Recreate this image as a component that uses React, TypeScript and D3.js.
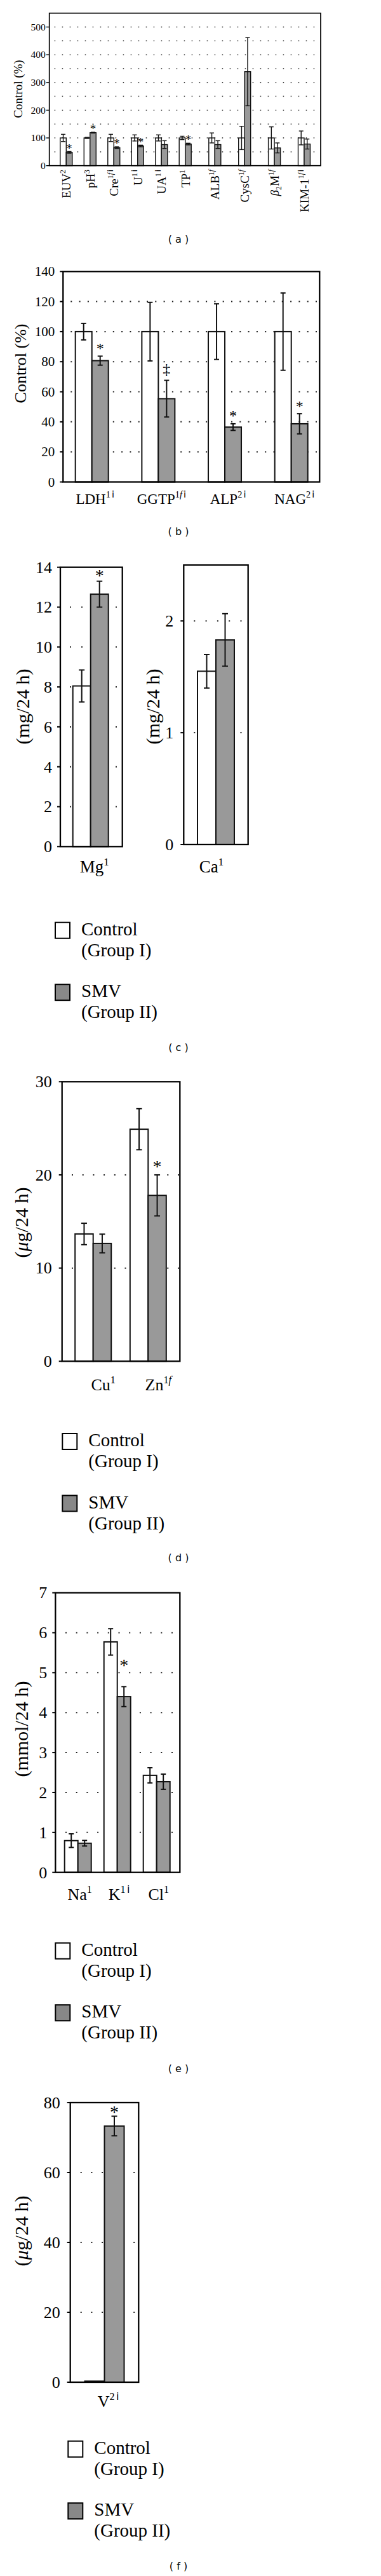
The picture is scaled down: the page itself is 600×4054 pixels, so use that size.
import React from "react";
import * as d3 from "d3";

const SERIF = "'Liberation Serif', 'Times New Roman', serif";
const SANS = "'DejaVu Sans', 'Liberation Sans', sans-serif";
const BAR_GRAY = "#999999";
const KEY_GRAY = "#888888";

// ---------- (a) ----------
const A_CATS = ["EUV", "pH", "Cre", "U", "UA", "TP", "ALB", "CysC", "β₂M", "KIM-1"];
const A_SUPS = ["2", "3", "1fi", "1i", "1i", "1", "1f", "1f", "1f", "1fi"];
const A_CTRL = [100, 100, 100, 100, 100, 100, 100, 100, 100, 100];
const A_CTRL_ERR = [13, 2, 13, 11, 11, 6, 18, 42, 40, 25];
const A_SMV = [48, 119, 65, 71, 76, 78, 76, 339, 64, 78];
const A_SMV_ERR = [3, 1.5, 3, 3, 14, 3, 14, 123, 18, 18];
const A_MARKS = ["*", "*", "*", "*", "", "*", "", "", "", ""];
const A_TICKS = [0, 100, 200, 300, 400, 500];
const A_GRID = [50, 100, 150, 200, 250, 300, 350, 400, 450, 500];

// ---------- (b) ----------
const B_CATS = ["LDH", "GGTP", "ALP", "NAG"];
const B_SUPS = ["1i", "1fi", "2i", "2i"];
const B_CTRL = [100, 100, 100, 100];
const B_CTRL_ERR = [5.5, 19.5, 18.5, 25.7];
const B_SMV = [80.7, 55.4, 36.5, 38.7];
const B_SMV_ERR = [3, 12.2, 2.2, 6.7];
const B_MARKS = ["*", "‡", "*", "*"];
const B_TICKS = [0, 20, 40, 60, 80, 100, 120, 140];
const B_GRID = [20, 40, 60, 80, 100, 120];

// ---------- (c) ----------
const C1_CATS = ["Mg"];
const C1_SUPS = ["1"];
const C1_CTRL = [8.05];
const C1_CTRL_ERR = [0.8];
const C1_SMV = [12.65];
const C1_SMV_ERR = [0.65];
const C1_MARKS = ["*"];
const C1_TICKS = [0, 2, 4, 6, 8, 10, 12, 14];
const C1_GRID = [2, 4, 6, 8, 10, 12];

const C2_CATS = ["Ca"];
const C2_SUPS = ["1"];
const C2_CTRL = [1.55];
const C2_CTRL_ERR = [0.15];
const C2_SMV = [1.83];
const C2_SMV_ERR = [0.235];
const C2_MARKS = [""];
const C2_TICKS = [0, 1, 2];
const C2_GRID = [1, 2];

// ---------- (d) ----------
const D_CATS = ["Cu", "Zn"];
const D_SUPS = ["1", "1f"];
const D_CTRL = [13.66, 24.9];
const D_CTRL_ERR = [1.15, 2.2];
const D_SMV = [12.64, 17.8];
const D_SMV_ERR = [1.0, 2.2];
const D_MARKS = ["", "*"];
const D_TICKS = [0, 10, 20, 30];
const D_GRID = [10, 20];

// ---------- (e) ----------
const E_CATS = ["Na", "K", "Cl"];
const E_SUPS = ["1", "1i", "1"];
const E_CTRL = [0.795, 5.77, 2.43];
const E_CTRL_ERR = [0.17, 0.33, 0.19];
const E_SMV = [0.73, 4.4, 2.27];
const E_SMV_ERR = [0.07, 0.25, 0.19];
const E_MARKS = ["", "*", ""];
const E_TICKS = [0, 1, 2, 3, 4, 5, 6, 7];
const E_GRID = [1, 2, 3, 4, 5, 6];

// ---------- (f) ----------
const F_CATS = ["V"];
const F_SUPS = ["2i"];
const F_CTRL = [0.3];
const F_CTRL_ERR = [0];
const F_SMV = [73.3];
const F_SMV_ERR = [2.8];
const F_MARKS = ["*"];
const F_TICKS = [0, 20, 40, 60, 80];
const F_GRID = [20, 40, 60];

const LEGEND_NAMES = [["Control", "(Group I)"], ["SMV", "(Group II)"]];
const PANEL_TAGS = ["a", "b", "c", "d", "e", "f"];

type Seg = { from: number; to: number; range: [number, number] };
type Cfg = {
  cats: string[]; sups: string[]; ctrl: number[]; ctrlErr: number[]; smv: number[]; smvErr: number[]; marks: string[];
  ticks: number[]; grid: number[]; yMax: number;
  l: number; r: number; t: number; b: number; segments: Seg[];
  barW: number; capW: number; line: number;
  tickFont: number; tickGap: number; ylabFont: number; catFont: number; markFont: number; markOff: number;
  yLabel: React.ReactNode; yLabX: number; yLabY: number;
  catMode: "rot" | "flat"; catY: number; catDx: number; dot: number; dotStart: number;
};

function labelSpans(name: string, sup: string, size: number) {
  const out: React.ReactNode[] = [];
  const s = size * 0.62;
  let k = 0;
  if (name.startsWith("β₂")) {
    out.push(<tspan key={k++} fontStyle="italic">β</tspan>);
    out.push(<tspan key={k++} fontSize={s} dy={size * 0.22}>2</tspan>);
    out.push(<tspan key={k++} dy={-size * 0.22}>{name.slice(2)}</tspan>);
  } else {
    out.push(<tspan key={k++}>{name}</tspan>);
  }
  let first = true;
  for (const ch of sup) {
    out.push(
      <tspan key={k++} fontSize={s} fontStyle={ch === "f" ? "italic" : "normal"}
        fontFamily={ch === "i" ? SANS : SERIF} dx={ch === "i" ? s * 0.15 : 0} dy={first ? -size * 0.42 : 0}>{ch}</tspan>
    );
    first = false;
  }
  return out;
}

function BarPanel({ c }: { c: Cfg }) {
  const y = d3.scaleLinear().domain([0, c.yMax]).range([c.b, c.t]);
  const centers: number[] = [];
  c.segments.forEach((s) => {
    const dom = c.cats.slice(s.from, s.to);
    const sc = d3.scalePoint<string>().domain(dom).range(s.range);
    dom.forEach((d) => centers.push(sc(d) as number));
  });
  const err = (x: number, v: number, e: number, key: string) => {
    if (!e) return null;
    return (
      <g key={key} stroke="#111" strokeWidth={c.line}>
        <line x1={x} x2={x} y1={y(v - e)} y2={y(v + e)} />
        <line x1={x - c.capW / 2} x2={x + c.capW / 2} y1={y(v - e)} y2={y(v - e)} />
        <line x1={x - c.capW / 2} x2={x + c.capW / 2} y1={y(v + e)} y2={y(v + e)} />
      </g>
    );
  };
  return (
    <g>
      {c.grid.map((v) => (
        <line key={"g" + v} x1={c.l + c.dotStart - 1} x2={c.r} y1={y(v)} y2={y(v)} stroke="#222"
          strokeWidth={Math.max(1.5, c.line)} strokeDasharray={`${Math.max(1.5, c.line)} ${c.dot - Math.max(1.5, c.line)}`} />
      ))}
      {c.cats.map((cat, i) => {
        const cx = centers[i];
        return (
          <g key={cat}>
            <rect x={cx - c.barW} y={y(c.ctrl[i])} width={c.barW} height={y(0) - y(c.ctrl[i])} fill="#fff" stroke="#111" strokeWidth={c.line} />
            <rect x={cx} y={y(c.smv[i])} width={c.barW} height={y(0) - y(c.smv[i])} fill={BAR_GRAY} stroke="#111" strokeWidth={c.line} />
            {err(cx - c.barW / 2, c.ctrl[i], c.ctrlErr[i], "ec")}
            {err(cx + c.barW / 2, c.smv[i], c.smvErr[i], "es")}
            {c.marks[i] && (
              <text x={cx + c.barW / 2} y={y(c.smv[i] + c.smvErr[i]) - c.markOff + c.markFont * (c.marks[i] === "*" ? 0.48 : 0.28)}
                textAnchor="middle" fontFamily={SERIF} fontSize={c.markFont}>{c.marks[i]}</text>
            )}
            {c.catMode === "rot" ? (
              <text transform={`translate(${cx + c.catDx},${c.catY}) rotate(-90)`} textAnchor="end" fontFamily={SERIF} fontSize={c.catFont}>
                {labelSpans(cat, c.sups[i], c.catFont)}
              </text>
            ) : (
              <text x={cx + c.catDx} y={c.catY} textAnchor="middle" fontFamily={SERIF} fontSize={c.catFont}>
                {labelSpans(cat, c.sups[i], c.catFont)}
              </text>
            )}
          </g>
        );
      })}
      <rect x={c.l} y={c.t} width={c.r - c.l} height={c.b - c.t} fill="none" stroke="#000" strokeWidth={c.line + 0.3} />
      {c.ticks.map((v) => (
        <g key={"t" + v}>
          <line x1={c.l - 5} x2={c.l} y1={y(v)} y2={y(v)} stroke="#000" strokeWidth={c.line} />
          <text x={c.l - c.tickGap} y={y(v) + c.tickFont * 0.34} textAnchor="end" fontFamily={SERIF} fontSize={c.tickFont}>{v}</text>
        </g>
      ))}
      <text transform={`translate(${c.yLabX},${c.yLabY}) rotate(-90)`} textAnchor="middle" dominantBaseline="central"
        fontFamily={SERIF} fontSize={c.ylabFont}>{c.yLabel}</text>
    </g>
  );
}

function Legend({ x, y }: { x: number; y: number }) {
  return (
    <g fontFamily={SERIF} fontSize={29}>
      {LEGEND_NAMES.map((lines, i) => {
        const top = y + i * 97.5;
        return (
          <g key={i}>
            <rect x={x} y={top} width={23} height={25} fill={i === 0 ? "#fff" : KEY_GRAY} stroke="#000" strokeWidth={2} />
            <text x={x + 41} y={top + 20}>{lines[0]}</text>
            <text x={x + 41} y={top + 53}>{lines[1]}</text>
          </g>
        );
      })}
    </g>
  );
}

const mu = (
  <>
    <tspan>(</tspan><tspan fontStyle="italic">μ</tspan><tspan>g/24 h)</tspan>
  </>
);

const common = { line: 2, capW: 9, tickFont: 26, ylabFont: 30, catFont: 26, markFont: 28, catMode: "flat" as const, dot: 16.7, dotStart: 16.5 };

const PA: Cfg = {
  cats: A_CATS, sups: A_SUPS, ctrl: A_CTRL, ctrlErr: A_CTRL_ERR, smv: A_SMV, smvErr: A_SMV_ERR, marks: A_MARKS,
  ticks: A_TICKS, grid: A_GRID, yMax: 550, l: 77.7, r: 505, t: 20.7, b: 260.7,
  segments: [{ from: 0, to: 6, range: [104.3, 291.7] }, { from: 6, to: 10, range: [338.3, 479] }],
  barW: 9.5, capW: 7, line: 1.4, tickFont: 15.5, tickGap: 6, ylabFont: 19, catFont: 19, markFont: 19, markOff: 8,
  yLabel: "Control (%)", yLabX: 28, yLabY: 140, catMode: "rot", catY: 267, catDx: 7, dot: 12, dotStart: 9,
};
const PB: Cfg = {
  cats: B_CATS, sups: B_SUPS, ctrl: B_CTRL, ctrlErr: B_CTRL_ERR, smv: B_SMV, smvErr: B_SMV_ERR, marks: B_MARKS,
  ticks: B_TICKS, grid: B_GRID, yMax: 140, l: 99.3, r: 503.3, t: 427.3, b: 758.5,
  segments: [{ from: 0, to: 4, range: [144.7, 458.7] }],
  barW: 26, capW: 8, line: 2, tickFont: 21, tickGap: 13, ylabFont: 26, catFont: 23, markFont: 24, markOff: 16,
  yLabel: "Control (%)", yLabX: 32, yLabY: 572, catMode: "flat", catY: 792.7, catDx: 5, dot: 13.3, dotStart: 13,
};
const PC1: Cfg = {
  ...common,
  cats: C1_CATS, sups: C1_SUPS, ctrl: C1_CTRL, ctrlErr: C1_CTRL_ERR, smv: C1_SMV, smvErr: C1_SMV_ERR, marks: C1_MARKS,
  ticks: C1_TICKS, grid: C1_GRID, yMax: 14, l: 95, r: 192.7, t: 892.7, b: 1332.3,
  segments: [{ from: 0, to: 1, range: [95, 190.4] }],
  barW: 28, tickGap: 13, catFont: 27, markOff: 13, yLabel: "(mg/24 h)", yLabX: 35, yLabY: 1112, catY: 1373, catDx: 6, dot: 18, dotStart: 16,
};
const PC2: Cfg = {
  ...common,
  cats: C2_CATS, sups: C2_SUPS, ctrl: C2_CTRL, ctrlErr: C2_CTRL_ERR, smv: C2_SMV, smvErr: C2_SMV_ERR, marks: C2_MARKS,
  ticks: C2_TICKS, grid: C2_GRID, yMax: 2.5, l: 289.3, r: 390.7, t: 889.3, b: 1329,
  segments: [{ from: 0, to: 1, range: [289.3, 390.7] }],
  barW: 29, tickGap: 16, catFont: 27, markOff: 13, yLabel: "(mg/24 h)", yLabX: 240, yLabY: 1112, catY: 1373, catDx: -7, dot: 18.3, dotStart: 17,
};
const PD: Cfg = {
  ...common,
  cats: D_CATS, sups: D_SUPS, ctrl: D_CTRL, ctrlErr: D_CTRL_ERR, smv: D_SMV, smvErr: D_SMV_ERR, marks: D_MARKS,
  ticks: D_TICKS, grid: D_GRID, yMax: 30, l: 97.7, r: 283.3, t: 1702.3, b: 2142.3,
  segments: [{ from: 0, to: 2, range: [146.7, 233.3] }],
  barW: 28.5, tickGap: 16, markOff: 17, yLabel: mu, yLabX: 33, yLabY: 1924, catY: 2188, catDx: 16, dotStart: 16.3,
};
const PE: Cfg = {
  ...common,
  cats: E_CATS, sups: E_SUPS, ctrl: E_CTRL, ctrlErr: E_CTRL_ERR, smv: E_SMV, smvErr: E_SMV_ERR, marks: E_MARKS,
  ticks: E_TICKS, grid: E_GRID, yMax: 7, l: 87.3, r: 283.3, t: 2506.6, b: 2946.7,
  segments: [{ from: 0, to: 3, range: [122.7, 246.7] }],
  barW: 21, capW: 8, tickGap: 13, markOff: 38, yLabel: "(mmol/24 h)", yLabX: 33, yLabY: 2721, catY: 2990, catDx: 3, dotStart: 16.7,
};
const PF: Cfg = {
  ...common,
  cats: F_CATS, sups: F_SUPS, ctrl: F_CTRL, ctrlErr: F_CTRL_ERR, smv: F_SMV, smvErr: F_SMV_ERR, marks: F_MARKS,
  ticks: F_TICKS, grid: F_GRID, yMax: 80, l: 110.7, r: 218.3, t: 3309, b: 3749,
  segments: [{ from: 0, to: 1, range: [110.7, 218.3] }],
  barW: 31, tickGap: 16, markOff: 11, yLabel: mu, yLabX: 33, yLabY: 3511, catY: 3788, catDx: 6, dotStart: 17,
};

const LEGENDS = [{ x: 87, y: 1451.7 }, { x: 98.3, y: 2256 }, { x: 87.3, y: 3057.7 }, { x: 107.3, y: 3841.7 }];
const TAG_Y = [376.7, 836.7, 1648.3, 2451.7, 3255, 4038.3];

export default function App() {
  return (
    <svg width={600} height={4054} style={{ position: "absolute", left: 0, top: 0, background: "#fff" }}>
      <rect x={0} y={0} width={600} height={4054} fill="#fff" />
      {[PA, PB, PC1, PC2, PD, PE, PF].map((c, i) => <BarPanel key={i} c={c} />)}
      {LEGENDS.map((p, i) => <Legend key={i} x={p.x} y={p.y} />)}
      {PANEL_TAGS.map((t, i) => (
        <text key={t} x={281} y={TAG_Y[i]} textAnchor="middle" dominantBaseline="central" fontFamily={SANS} fontSize={16}>
          {`( ${t} )`}
        </text>
      ))}
    </svg>
  );
}
